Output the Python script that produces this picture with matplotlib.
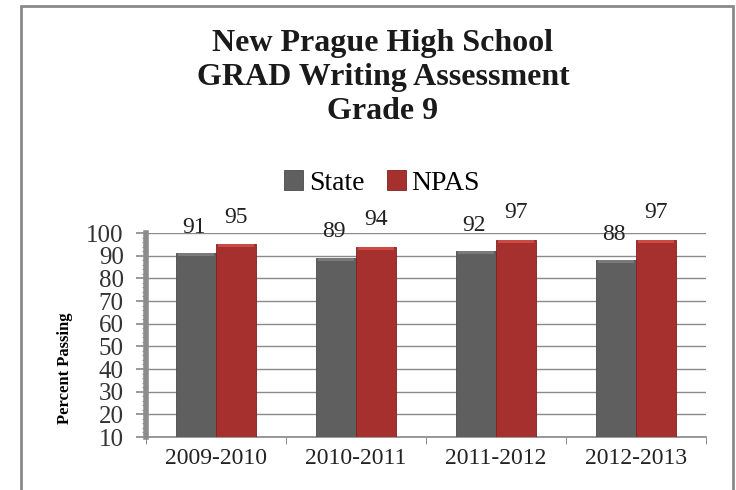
import matplotlib
matplotlib.use("Agg")
import matplotlib.pyplot as plt
from matplotlib.patches import Rectangle
import numpy as np

categories = ["2009-2010", "2010-2011", "2011-2012", "2012-2013"]
state = [91, 89, 92, 88]
npas = [95, 94, 97, 97]
yticks = [10, 20, 30, 40, 50, 60, 70, 80, 90, 100]

plt.rcParams['font.family'] = ['Liberation Serif', 'DejaVu Serif']

fig = plt.figure(figsize=(7.36, 4.90), dpi=100)
fig.patch.set_facecolor('white')

# outer chart frame (bottom edge cut off by image border)
fig.patches.append(Rectangle((21/736, -10/490), 712/736, (490 - 6 + 10)/490, transform=fig.transFigure,
                             facecolor='white', edgecolor='#8a8a8a', linewidth=2, zorder=-1))

ax = fig.add_axes([146/736, 1-437/490, (706-146)/736, (437-233)/490])
ax.set_zorder(2)
ax.patch.set_alpha(0)
x = np.arange(len(categories))
w = 0.286
b1 = ax.bar(x - w/2, [v - 10 for v in state], w, bottom=10, color='#5f5f5f',
            edgecolor='#4a4a4a', linewidth=0.6, zorder=3)
b2 = ax.bar(x + w/2, [v - 10 for v in npas], w, bottom=10, color='#a5302e',
            edgecolor='#7d2220', linewidth=0.6, zorder=3)
# bevelled top caps
ax.bar(x - w/2, [1.3] * len(state), w * 0.9, bottom=[v - 1.3 for v in state],
       color='#7a7a7a', linewidth=0, zorder=4)
ax.bar(x + w/2, [1.3] * len(npas), w * 0.9, bottom=[v - 1.3 for v in npas],
       color='#cc4a46', linewidth=0, zorder=4)

for i in range(len(categories)):
    ax.text(x[i] - w/2 - 0.015, state[i] + 11.5, str(state[i]), ha='center', va='center',
            fontsize=17, color='#222222', clip_on=False)
    ax.text(x[i] + w/2, npas[i] + 12, str(npas[i]), ha='center', va='center',
            fontsize=17, color='#222222', clip_on=False)

ax.set_xlim(-0.5, len(categories) - 0.5)
ax.set_ylim(10, 100)
ax.set_yticks(yticks)
ax.set_yticklabels([str(t) for t in yticks], fontsize=18, color='#333333')
ax.yaxis.set_minor_locator(matplotlib.ticker.MultipleLocator(2))
ax.tick_params(axis='y', which='major', length=7, width=1.2, color='#888888', pad=9)
ax.tick_params(axis='y', which='minor', length=3, width=0.8, color='#999999')
ax.set_xticks(x)
ax.set_xticklabels(categories, fontsize=17, color='#222222')
ax.set_xticks(np.arange(len(categories) + 1) - 0.5, minor=True)
ax.tick_params(axis='x', which='major', length=0, pad=8)
ax.tick_params(axis='x', which='minor', length=5, color='#777777')
ax.grid(axis='y', which='major', color='#8a8a8a', linewidth=1.0, zorder=0)
for s in ['top', 'right']:
    ax.spines[s].set_visible(False)
ax.spines['left'].set_color('#8c8c8c')
ax.spines['left'].set_linewidth(4)
ax.spines['bottom'].set_color('#888888')
ax.spines['bottom'].set_linewidth(1.2)

ax.set_ylabel('Percent Passing', fontsize=12, fontweight='bold')
ax.yaxis.set_label_coords(-0.13, 0.335)

fig.text(383/736, 1-43/490, 'New Prague High School', ha='center', va='center',
         fontsize=23, fontweight='bold', color='#1a1a1a')
fig.text(383/736, 1-77/490, 'GRAD Writing Assessment', ha='center', va='center',
         fontsize=23, fontweight='bold', color='#1a1a1a')
fig.text(383/736, 1-111/490, 'Grade 9', ha='center', va='center',
         fontsize=23, fontweight='bold', color='#1a1a1a')

leg = fig.legend([b1, b2], ['State', 'NPAS'], loc='center', bbox_to_anchor=(382/736, 1-183/490),
                 ncol=2, frameon=False, fontsize=20, handlelength=0.7, handleheight=0.7,
                 handletextpad=0.2, columnspacing=0.8)

fig.savefig('out.png', dpi=100)
